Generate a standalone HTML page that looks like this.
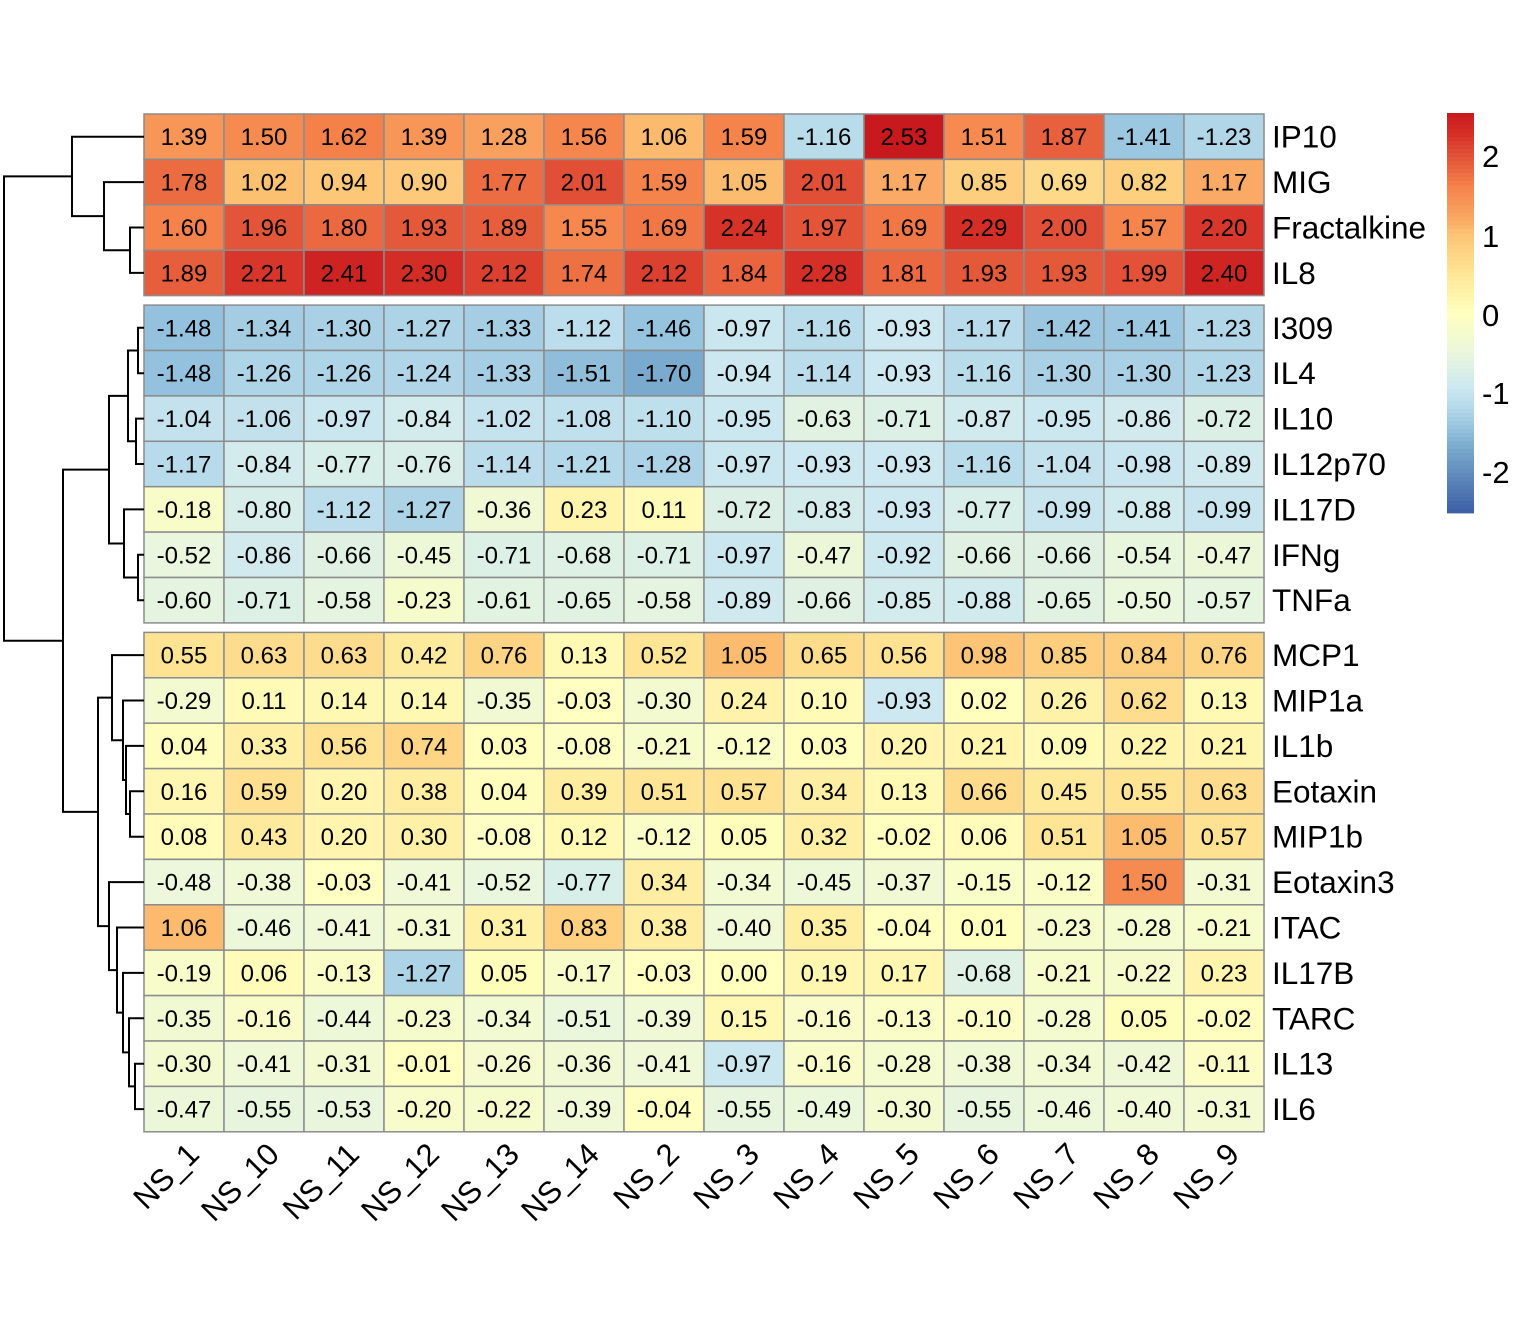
<!DOCTYPE html>
<html><head><meta charset="utf-8"><style>
body{margin:0;background:#fff}
svg{display:block;font-family:"Liberation Sans",Arial,sans-serif}
</style></head><body>
<svg id="s" width="1536" height="1344" xmlns="http://www.w3.org/2000/svg"></svg>
<script>
const rows=["IP10","MIG","Fractalkine","IL8","I309","IL4","IL10","IL12p70","IL17D","IFNg","TNFa","MCP1","MIP1a","IL1b","Eotaxin","MIP1b","Eotaxin3","ITAC","IL17B","TARC","IL13","IL6"];
const cols=["NS_1","NS_10","NS_11","NS_12","NS_13","NS_14","NS_2","NS_3","NS_4","NS_5","NS_6","NS_7","NS_8","NS_9"];
const D=[
"1.39 1.50 1.62 1.39 1.28 1.56 1.06 1.59 -1.16 2.53 1.51 1.87 -1.41 -1.23",
"1.78 1.02 0.94 0.90 1.77 2.01 1.59 1.05 2.01 1.17 0.85 0.69 0.82 1.17",
"1.60 1.96 1.80 1.93 1.89 1.55 1.69 2.24 1.97 1.69 2.29 2.00 1.57 2.20",
"1.89 2.21 2.41 2.30 2.12 1.74 2.12 1.84 2.28 1.81 1.93 1.93 1.99 2.40",
"-1.48 -1.34 -1.30 -1.27 -1.33 -1.12 -1.46 -0.97 -1.16 -0.93 -1.17 -1.42 -1.41 -1.23",
"-1.48 -1.26 -1.26 -1.24 -1.33 -1.51 -1.70 -0.94 -1.14 -0.93 -1.16 -1.30 -1.30 -1.23",
"-1.04 -1.06 -0.97 -0.84 -1.02 -1.08 -1.10 -0.95 -0.63 -0.71 -0.87 -0.95 -0.86 -0.72",
"-1.17 -0.84 -0.77 -0.76 -1.14 -1.21 -1.28 -0.97 -0.93 -0.93 -1.16 -1.04 -0.98 -0.89",
"-0.18 -0.80 -1.12 -1.27 -0.36 0.23 0.11 -0.72 -0.83 -0.93 -0.77 -0.99 -0.88 -0.99",
"-0.52 -0.86 -0.66 -0.45 -0.71 -0.68 -0.71 -0.97 -0.47 -0.92 -0.66 -0.66 -0.54 -0.47",
"-0.60 -0.71 -0.58 -0.23 -0.61 -0.65 -0.58 -0.89 -0.66 -0.85 -0.88 -0.65 -0.50 -0.57",
"0.55 0.63 0.63 0.42 0.76 0.13 0.52 1.05 0.65 0.56 0.98 0.85 0.84 0.76",
"-0.29 0.11 0.14 0.14 -0.35 -0.03 -0.30 0.24 0.10 -0.93 0.02 0.26 0.62 0.13",
"0.04 0.33 0.56 0.74 0.03 -0.08 -0.21 -0.12 0.03 0.20 0.21 0.09 0.22 0.21",
"0.16 0.59 0.20 0.38 0.04 0.39 0.51 0.57 0.34 0.13 0.66 0.45 0.55 0.63",
"0.08 0.43 0.20 0.30 -0.08 0.12 -0.12 0.05 0.32 -0.02 0.06 0.51 1.05 0.57",
"-0.48 -0.38 -0.03 -0.41 -0.52 -0.77 0.34 -0.34 -0.45 -0.37 -0.15 -0.12 1.50 -0.31",
"1.06 -0.46 -0.41 -0.31 0.31 0.83 0.38 -0.40 0.35 -0.04 0.01 -0.23 -0.28 -0.21",
"-0.19 0.06 -0.13 -1.27 0.05 -0.17 -0.03 0.00 0.19 0.17 -0.68 -0.21 -0.22 0.23",
"-0.35 -0.16 -0.44 -0.23 -0.34 -0.51 -0.39 0.15 -0.16 -0.13 -0.10 -0.28 0.05 -0.02",
"-0.30 -0.41 -0.31 -0.01 -0.26 -0.36 -0.41 -0.97 -0.16 -0.28 -0.38 -0.34 -0.42 -0.11",
"-0.47 -0.55 -0.53 -0.20 -0.22 -0.39 -0.04 -0.55 -0.49 -0.30 -0.55 -0.46 -0.40 -0.31"].map(r=>r.split(" "));
const stops=[[-2.53,[60,95,165]],[-1.70,[122,170,205]],[-1.46,[150,195,222]],[-1.16,[185,220,235]],[-0.93,[205,232,240]],[-0.5,[235,247,220]],[0,[255,255,190]],[0.5,[254,230,150]],[1.0,[252,195,115]],[1.17,[250,170,100]],[1.6,[245,130,75]],[2.0,[225,80,55]],[2.24,[215,50,40]],[2.53,[200,25,30]]];
function col(v){v=Math.max(-2.53,Math.min(2.53,v));
 for(let i=0;i<stops.length-1;i++){const [a,ca]=stops[i],[b,cb]=stops[i+1];
  if(v<=b){const f=(v-a)/(b-a);return `rgb(${ca.map((c,k)=>Math.round(c+(cb[k]-c)*f))})`;}}
 return "rgb(200,25,30)";}
const H=45.4,G=9.5,X0=144,W=80;
function rowY(i){return 114+i*H+(i>=4?G:0)+(i>=11?G:0);}
let s="";
for(let i=0;i<22;i++){const y=rowY(i);
 for(let j=0;j<14;j++){const v=parseFloat(D[i][j]);
  s+=`<rect x="${X0+j*W}" y="${y}" width="${W}" height="${H}" fill="${col(v)}" stroke="#8c8c8c" stroke-width="1.5"/>`;
  s+=`<text x="${X0+j*W+W/2}" y="${y+H/2+8.5}" font-size="24" text-anchor="middle">${D[i][j]}</text>`;}
 s+=`<text x="1272" y="${y+H/2+11}" font-size="31.5">${rows[i]}</text>`;}
for(let j=0;j<14;j++){const cx=X0+j*W+W/2+17,cy=1156;
 s+=`<text transform="translate(${cx},${cy}) rotate(-45)" font-size="31" text-anchor="end">${cols[j]}</text>`;}
const leaf=i=>rowY(i)+H/2;
function node(x,a,b){return {x,a,b};}
function L(i){return {x:144,y:leaf(i)};}
const tree=node(4,
 node(72,L(0),node(104,L(1),node(130,L(2),L(3)))),
 node(63,
  node(109,node(128,node(138,L(4),L(5)),node(136,L(6),L(7))),node(124,L(8),node(138,L(9),L(10)))),
  node(98,node(112,L(11),node(123,L(12),node(126,L(13),node(130,L(14),L(15))))),
          node(109,L(16),node(117,L(17),node(123,L(18),node(129,L(19),node(135,L(20),L(21))))))) ));
let d="";
function draw(n){if(!n.a)return n.y;const ya=draw(n.a),yb=draw(n.b);
 d+=`M${n.a.x} ${ya}H${n.x}V${yb}H${n.b.x} `;n.y=(ya+yb)/2;return n.y;}
draw(tree);
s+=`<path d="${d}" fill="none" stroke="#000" stroke-width="2"/>`;
let g="";for(let k=0;k<100;k++){const v=2.53-(k+0.5)*5.06/100;g+=`<rect x="1447" y="${113+k*4}" width="27" height="4.4" fill="${col(v)}"/>`;}
s+=g;
[[2,156],[1,236],[0,315],[-1,393],[-2,472]].forEach(([v,y])=>s+=`<text x="1482" y="${y+11}" font-size="31">${v}</text>`);
document.getElementById("s").innerHTML=s;
</script>
</body></html>
